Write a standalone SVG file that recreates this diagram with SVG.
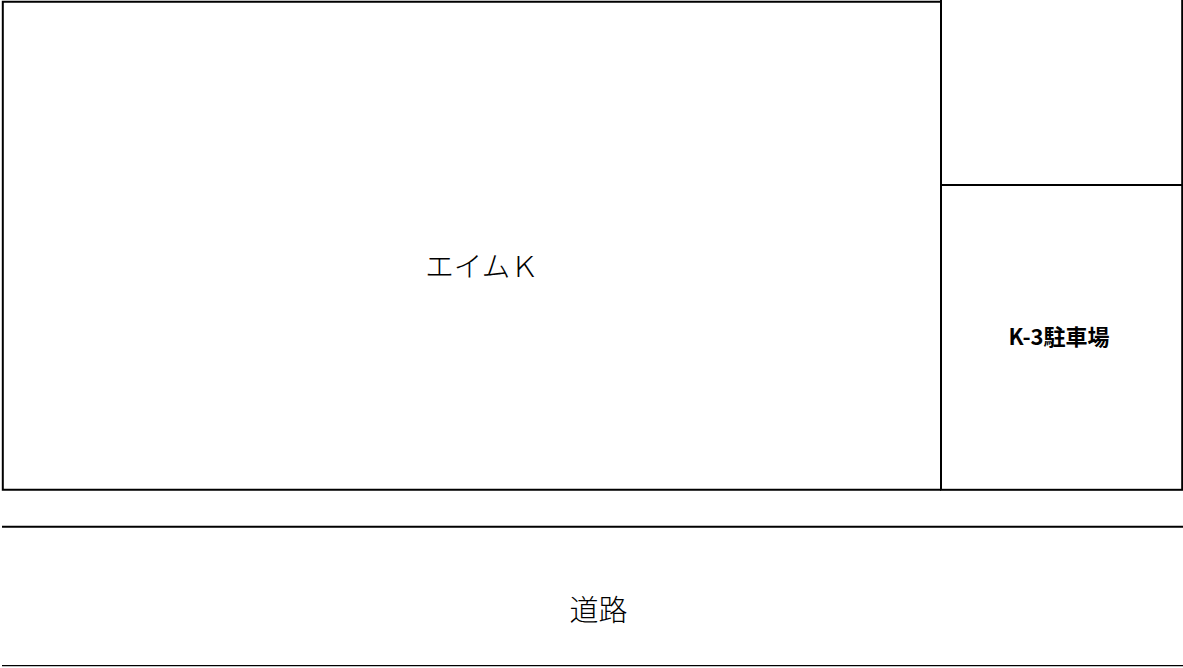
<svg xmlns="http://www.w3.org/2000/svg" width="1183" height="668" viewBox="0 0 1183 668">
<style>
.ln{fill:none;stroke:#000;stroke-width:2}
.t{font-family:"Noto Sans CJK JP","Noto Sans",sans-serif;fill:#000;text-anchor:middle;dominant-baseline:central}
</style>
<rect width="1183" height="668" fill="#fff"/>
<g id="aim-k">
<polyline class="ln" points="941,1.8 2.8,1.8 2.8,489.8 941,489.8"/>
<text class="t" x="482" y="264" font-size="28.5" font-weight="300">エイムＫ</text>
</g>
<g id="top-right">
<line class="ln" x1="941" y1="0" x2="941" y2="185"/>
<line class="ln" x1="1182.2" y1="0" x2="1182.2" y2="185"/>
</g>
<g id="k3-parking">
<rect class="ln" x="941" y="185" width="241.2" height="304.8"/>
<text class="t" x="1059" y="334.5" font-size="22" font-weight="700">K-3駐車場</text>
</g>
<g id="road">
<line x1="2" y1="526.8" x2="1183" y2="526.8" stroke="#000" stroke-width="2"/>
<line x1="2" y1="665.6" x2="1183" y2="665.6" stroke="#000" stroke-width="1.2"/>
<text class="t" x="598.5" y="608" font-size="29" font-weight="300">道路</text>
</g>
<g id="connectors"/>
</svg>
